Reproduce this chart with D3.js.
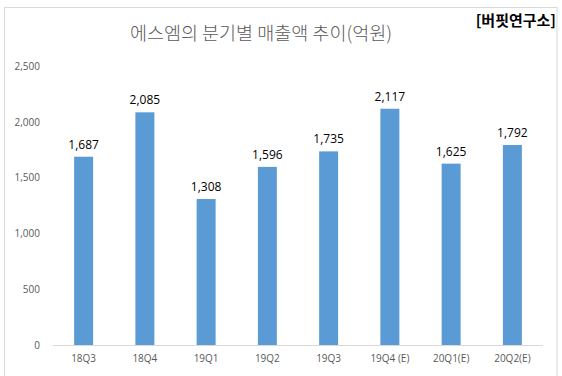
<!DOCTYPE html>
<html><head><meta charset="utf-8">
<script src="https://cdn.jsdelivr.net/npm/d3@7"></script>
<style>body{margin:0;background:#fff}svg{display:block}</style>
</head><body>
<script>
const categories = ["18Q3","18Q4","19Q1","19Q2","19Q3","19Q4 (E)","20Q1(E)","20Q2(E)"];
const values = [1687,2085,1308,1596,1735,2117,1625,1792];
const yTicks = [0,500,1000,1500,2000,2500];
const title = "에스엠의 분기별 매출액 추이(억원)";
const source = "[버핏연구소]";

const W=562,H=376;
const svg=d3.select("body").append("svg").attr("width",W).attr("height",H);
svg.append("rect").attr("x",4.5).attr("y",7.5).attr("width",552.5).attr("height",380)
  .attr("fill","#fff").attr("stroke","#d9d9d9");
const x=d3.scaleBand().domain(categories).range([53,543]).paddingInner(0.69).paddingOuter(0.345);
const y=d3.scaleLinear().domain([0,2500]).range([345,66]);
const font="'Malgun Gothic','Noto Sans CJK KR',sans-serif";

svg.append("text").attr("x",261).attr("y",40).attr("text-anchor","middle")
  .attr("font-family",font).attr("font-size",18.5).attr("font-weight",300).attr("fill","#595959").text(title);
svg.append("text").attr("x",556).attr("y",26).attr("text-anchor","end")
  .attr("font-family",font).attr("font-size",15).attr("font-weight","bold").attr("fill","#000").text(source);

const ya=svg.append("g").attr("transform","translate(40,0)")
  .call(d3.axisLeft(y).tickValues(yTicks).tickSize(0).tickPadding(0).tickFormat(d3.format(",")));
ya.select(".domain").remove();
ya.selectAll("text").attr("font-family","'Segoe UI','Open Sans',sans-serif").attr("font-size",10).attr("fill","#595959");

const xa=svg.append("g").attr("transform","translate(0,345)")
  .call(d3.axisBottom(x).tickSize(0).tickPadding(10));
xa.select(".domain").remove();
xa.selectAll("text").attr("font-family","'Segoe UI','Open Sans',sans-serif").attr("font-size",10).attr("fill","#595959");

svg.selectAll(".bar").data(values).join("rect").attr("class","bar")
  .attr("x",(d,i)=>x(categories[i])).attr("width",x.bandwidth())
  .attr("y",d=>y(d)).attr("height",d=>y(0)-y(d)).attr("fill","#5B9BD5");

svg.append("line").attr("x1",53).attr("x2",543).attr("y1",345.5).attr("y2",345.5).attr("stroke","#d9d9d9");

svg.selectAll(".lbl").data(values).join("text").attr("class","lbl")
  .attr("x",(d,i)=>x(categories[i])+x.bandwidth()/2).attr("y",d=>y(d)-8)
  .attr("text-anchor","middle").attr("font-family","'Segoe UI','Open Sans',sans-serif")
  .attr("font-size",12).attr("fill","#000").text(d=>d3.format(",")(d));
</script>
</body></html>
